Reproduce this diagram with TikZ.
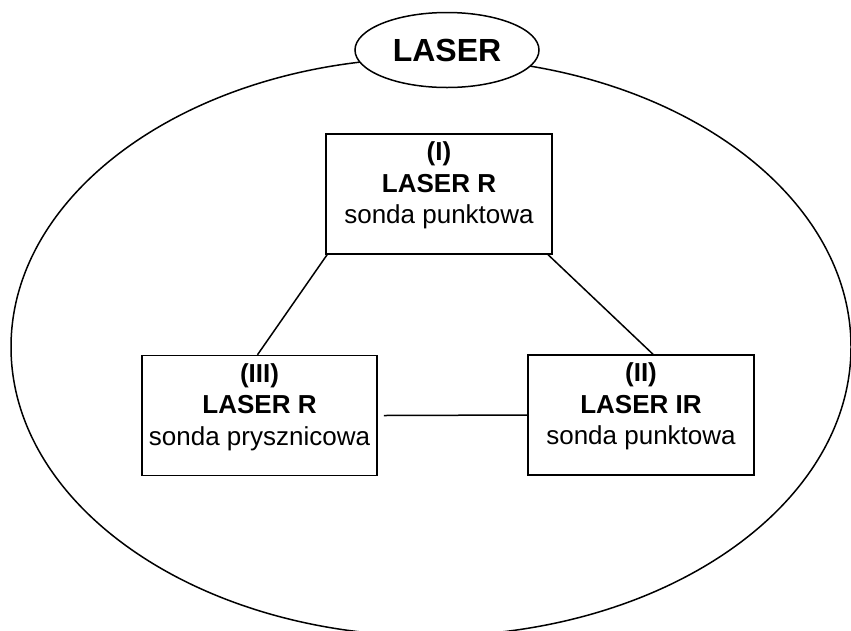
\documentclass[tikz,border=0pt]{standalone}
\usepackage{fontspec}
\setmainfont{Liberation Sans}
\usepackage{tikz}
\usetikzlibrary{shapes.geometric,calc,backgrounds}
\tikzstyle{scheme}=[
  x=1pt,y=-1pt,line width=1.5pt
]
\tikzstyle{laserbox}=[
  draw,rectangle,fill=white,align=center,inner sep=0pt,
  minimum width=226pt,minimum height=120pt,text depth=22pt,
  font=\fontsize{26}{31.5}\selectfont
]
\tikzstyle{title}=[
  draw,ellipse,fill=white,inner sep=0pt,
  minimum width=184pt,minimum height=75pt,
  font=\fontsize{32}{36}\selectfont\bfseries
]
\tikzstyle{link}=[
  line width=1.5pt
]

\begin{document}
\begin{tikzpicture}[scheme]
        \useasboundingbox (0,0) rectangle (851,630);
        \node (laser) at (447, 50) [title] {LASER};
        \node (i) at (439, 194) [laserbox] {\textbf{(I)}\\\textbf{LASER R}\\sonda punktowa};
        \node (ii) at (641, 415) [laserbox] {\textbf{(II)}\\\textbf{LASER IR}\\sonda punktowa};
        \node (iii) at (259.5, 415.5) [laserbox, minimum width=235pt] {\textbf{(III)}\\\textbf{LASER R}\\sonda prysznicowa};

        \begin{scope}[on background layer]
          \draw [link] (431, 347) ellipse [x radius=420, y radius=289];
          \draw [link] ($(i.south west) + (6, -6)$) -- ($(iii.north) + (-2, 0)$);
          \draw [link] ($(i.south east) + (-12, -7)$) -- ($(ii.north) + (12, 0)$);
          \draw [link] ($(iii.east) + (6, 0)$) -- (ii.west);
        \end{scope}
\end{tikzpicture}
\end{document}
